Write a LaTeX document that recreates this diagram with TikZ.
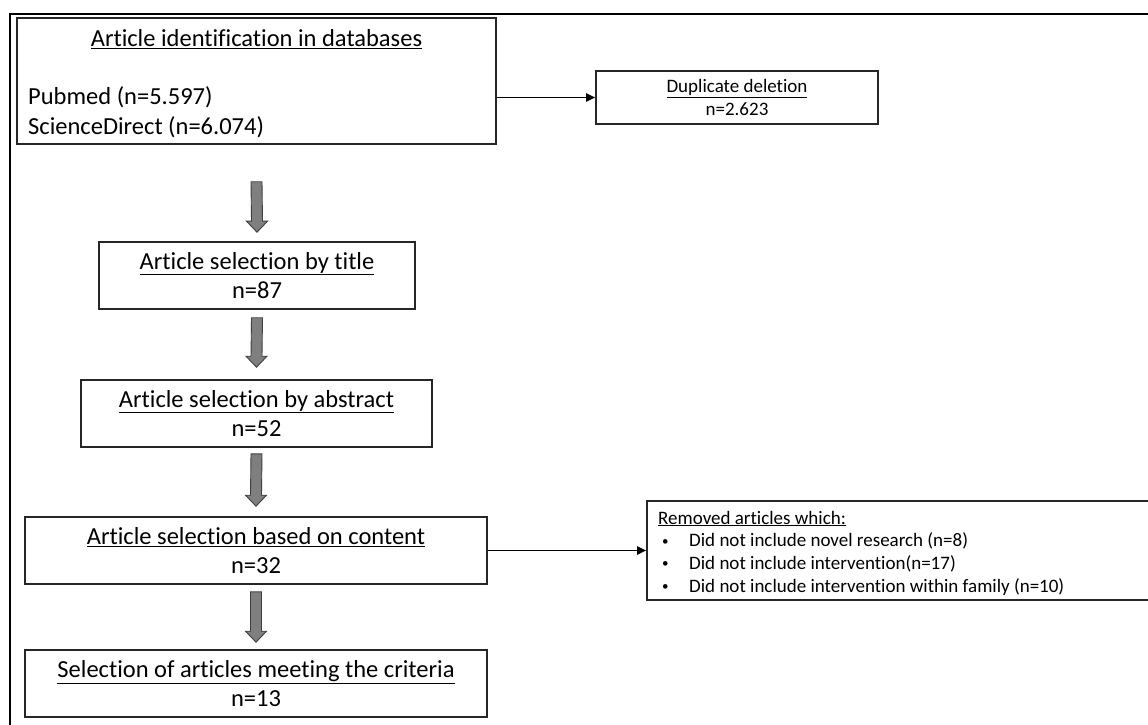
\documentclass[tikz,border=0pt]{standalone}
\usepackage{fontspec}
\setmainfont{Carlito}[RawFeature={-liga;-clig;-dlig;-rlig}]
\usetikzlibrary{arrows.meta,calc}
\definecolor{boxline}{HTML}{262626}
\definecolor{arrowfill}{HTML}{7F7F7F}
\definecolor{arrowline}{HTML}{3F3F3F}
\newcommand\smallbul{\hspace*{4pt}\makebox[27pt][l]{\raisebox{1.6pt}{\fontsize{13}{13}\selectfont •}}}
\tikzset{
  box/.style={draw=boxline, line width=1.6pt, rectangle, inner sep=0pt, align=center},
  bigtext/.style={font=\fontsize{24.5}{29.5}\selectfont},
  smalltext/.style={font=\fontsize{19}{23}\selectfont},
  remtext/.style={font=\fontsize{19}{22.7}\selectfont},
  thinarrow/.style={draw=black, line width=1.8pt, -{Triangle[length=9pt,width=8pt]}},
  blockarrow/.style={fill=arrowfill, draw=arrowline, line width=0.9pt, line join=miter},
}
\newcommand\garrow[4]{%
  \draw[blockarrow] ($(#1.south)+(-5.5,-#3)$) -- ($(#1.south)+(5.5,-#3)$) -- ($(#2.north)+(5.5,#4+11)$) -- ($(#2.north)+(10.5,#4+11)$) -- ($(#2.north)+(0,#4)$) -- ($(#2.north)+(-10.5,#4+11)$) -- ($(#2.north)+(-5.5,#4+11)$) -- cycle;
}
\begin{document}
\begin{tikzpicture}[x=1pt,y=1pt]
\clip (0,0) rectangle (1148,724);
\fill[white] (0,0) rectangle (1148,724);
% outer frame (cropped)
\draw[line width=2.2pt, black] (10,-5) -- (10,710) -- (1160,710);

\node[box, minimum width=479pt, minimum height=126pt] (top) at (256.5,643) {};
\node[bigtext, anchor=base, inner sep=0pt] (toptitle) at (256.5,677) {\underline{Article identification in databases}};
\node[bigtext, anchor=base west, inner sep=0pt] (pubmed) at (28,619) {Pubmed (n=5.597)};
\node[bigtext, anchor=base west, inner sep=0pt] (sd) at (28,589) {ScienceDirect (n=6.074)};

\node[box, smalltext, minimum width=282pt, minimum height=53pt] (dup) at (737,626.5) {\underline{Duplicate deletion}\\n=2.623};
\draw[thinarrow] (dup.west -| top.east) -- (dup.west);

\node[box, bigtext, minimum width=316pt, minimum height=67pt] (title) at (257,448.5) {\underline{Article selection by title}\\n=87};
\node[box, bigtext, minimum width=351pt, minimum height=67pt] (abs) at (256.5,310.5) {\underline{Article selection by abstract}\\n=52};
\node[box, bigtext, minimum width=462pt, minimum height=67pt] (content) at (256,173.5) {\underline{Article selection based on content}\\n=32};
\node[box, bigtext, minimum width=462pt, minimum height=67pt] (final) at (256,40.5) {\underline{Selection of articles meeting the criteria}\\n=13};

\node[box, minimum width=513pt, minimum height=99pt] (rem) at (903.5,173.5) {};
\node[remtext, anchor=west, align=left, inner sep=0pt] (remtxt) at (658,171) {\underline{Removed articles which:}\\
\smallbul Did not include novel research (n=8)\\
\smallbul Did not include intervention(n=17)\\
\smallbul Did not include intervention within family (n=10)};
\draw[thinarrow] (content.east) -- (rem.west);

\garrow{top}{title}{37}{9}
\garrow{title}{abs}{8}{12}
\garrow{abs}{content}{6}{10}
\garrow{content}{final}{7}{7}
\end{tikzpicture}
\end{document}
